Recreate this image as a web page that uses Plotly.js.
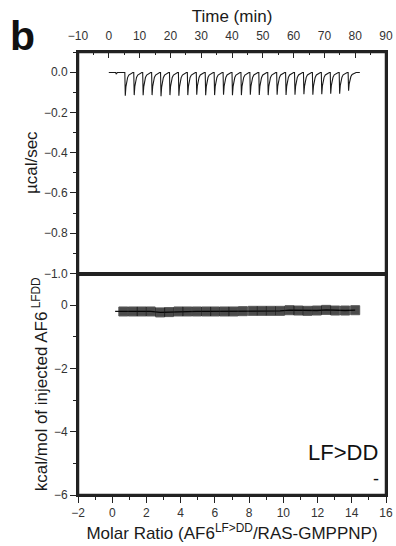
<!DOCTYPE html>
<html>
<head>
<meta charset="utf-8">
<script src="https://cdn.plot.ly/plotly-3.0.1.min.js"></script>
<style>html,body{margin:0;padding:0;background:#fff}#chart{width:396px;height:546px}</style>
</head>
<body>
<div id="chart"></div>
<script>
// ---- Raw thermogram (top panel) ----
var peakTimes = [5.2, 8.1, 11.0, 13.9, 16.8, 19.7, 22.6, 25.5, 28.4, 31.3, 34.2, 37.1, 40.0,
                 42.9, 45.8, 48.7, 51.6, 54.5, 57.4, 60.3, 63.2, 66.1, 69.0, 71.9, 74.8, 77.7];
var peakDepths = [-0.115, -0.112, -0.113, -0.112, -0.118, -0.112, -0.115, -0.112, -0.110, -0.113, -0.112, -0.110, -0.113,
                  -0.112, -0.110, -0.111, -0.112, -0.110, -0.111, -0.110, -0.108, -0.110, -0.108, -0.105, -0.105, -0.090];
var firstInjTime = 2.2;
var firstInjDepth = -0.008;
var baseStart = 0.0;
var baseEnd = 81.5;
var baseLevel = -0.002;
// peak profile (minutes after injection, fraction of depth)
var shapeDt   = [0, 0.15, 0.35, 0.6, 0.9, 1.3, 1.9, 2.6];
var shapeFrac = [0, 1.0, 0.62, 0.38, 0.22, 0.11, 0.04, 0];

// ---- Integrated heats (bottom panel) ----
var molarRatio = [0.17, 0.65, 1.20, 1.72, 2.25, 2.80, 3.32, 3.87, 4.39, 4.94, 5.49, 6.01, 6.56, 7.08,
                  7.63, 8.21, 8.74, 9.27, 9.81, 10.36, 10.88, 11.41, 11.96, 12.50, 13.03, 13.61, 14.20];
var heats = [-0.20, -0.20, -0.20, -0.20, -0.20, -0.23, -0.22, -0.20, -0.20, -0.20, -0.20, -0.20, -0.20, -0.20,
             -0.19, -0.18, -0.18, -0.18, -0.18, -0.16, -0.17, -0.18, -0.17, -0.15, -0.17, -0.17, -0.16];

// build thermogram trace points from the read values
var tx = [baseStart], ty = [baseLevel];
tx.push(firstInjTime, firstInjTime + 0.2, firstInjTime + 0.6);
ty.push(baseLevel, firstInjDepth, baseLevel);
for (var i = 0; i < peakTimes.length; i++) {
  for (var k = 0; k < shapeDt.length; k++) {
    tx.push(peakTimes[i] + shapeDt[k]);
    ty.push(baseLevel + peakDepths[i] * shapeFrac[k]);
  }
}
tx.push(baseEnd); ty.push(baseLevel);

var markerSizes = molarRatio.map(function (v, i) { return i === 0 ? 0 : 9; });

var traces = [
  {x: tx, y: ty, xaxis: 'x2', yaxis: 'y2', mode: 'lines', type: 'scatter',
   line: {color: '#1a1a1a', width: 1.1}},
  {x: molarRatio, y: heats, xaxis: 'x', yaxis: 'y', mode: 'lines+markers', type: 'scatter',
   line: {color: '#111', width: 1.3},
   marker: {symbol: 'square', size: markerSizes, color: '#000'}}
];

var F = 'Liberation Sans, Arial, sans-serif';
var axCol = '#222222';
function ax(o) {
  var r = {showgrid: true, gridcolor: 'rgba(255,255,255,0)', zeroline: false,
           showline: true, linecolor: axCol, linewidth: 2, mirror: true,
           tickcolor: axCol, tickwidth: 1, ticklen: 6,
           tickfont: {family: F, size: 12, color: '#333'}};
  for (var k2 in o) r[k2] = o[k2];
  return r;
}
function mn(d, dir) { return {dtick: d, ticks: dir, ticklen: 3, tickwidth: 1, tickcolor: axCol}; }
var titleFont = {family: F, size: 17, color: '#1a1a1a'};

var layout = {
  width: 396, height: 546,
  margin: {l: 78, r: 10, t: 52, b: 51},
  paper_bgcolor: 'white', plot_bgcolor: 'white',
  showlegend: false,
  font: {family: F},
  // bottom panel
  xaxis: ax({domain: [0, 1], anchor: 'y', range: [-2, 16], tick0: 0, dtick: 2, ticks: 'outside',
             minor: mn(1, 'outside'),
             title: {text: 'Molar Ratio (AF6<sup>LF&gt;DD</sup>/RAS-GMPPNP)', font: titleFont, standoff: 8}}),
  yaxis: ax({domain: [0, 0.5], anchor: 'x', range: [-6, 1], tick0: 0, dtick: 2, ticks: 'outside',
             minor: mn(1, 'outside'),
             title: {text: 'kcal/mol of injected AF6<sup> LFDD</sup>', font: titleFont, standoff: 2}}),
  // top panel
  xaxis2: ax({domain: [0, 1], anchor: 'y2', side: 'top', range: [-10, 90], tick0: 0, dtick: 10, ticks: 'inside',
              ticklabelstandoff: 5, minor: mn(5, 'inside'),
              title: {text: 'Time (min)', font: titleFont, standoff: 2}}),
  yaxis2: ax({domain: [0.5, 1], anchor: 'x2', range: [-1, 0.1], tick0: 0, dtick: 0.2, tickformat: '.1f', ticks: 'outside',
              minor: mn(0.1, 'outside'),
              title: {text: 'µcal/sec', font: titleFont, standoff: 2}}),
  shapes: [
    {type: 'rect', xref: 'paper', yref: 'paper', x0: 0, x1: 1, y0: 0.5, y1: 1, line: {color: axCol, width: 2.5}},
    {type: 'rect', xref: 'paper', yref: 'paper', x0: 0, x1: 1, y0: 0, y1: 0.5, line: {color: axCol, width: 2.5}}
  ],
  annotations: [
    {text: '<b>b</b>', xref: 'paper', yref: 'paper', x: -0.18, y: 1.035, xanchor: 'center', yanchor: 'middle',
     showarrow: false, font: {family: F, size: 41, color: '#111'}},
    {text: 'LF&gt;DD', xref: 'paper', yref: 'paper', x: 0.861, y: 0.095, xanchor: 'center', yanchor: 'middle',
     showarrow: false, font: {family: F, size: 22, color: '#111'}},
    {text: '-', xref: 'paper', yref: 'paper', x: 0.966, y: 0.035, xanchor: 'center', yanchor: 'middle',
     showarrow: false, font: {family: F, size: 18, color: '#111'}}
  ]
};

Plotly.newPlot('chart', traces, layout, {displayModeBar: false, staticPlot: true});
</script>
</body>
</html>
